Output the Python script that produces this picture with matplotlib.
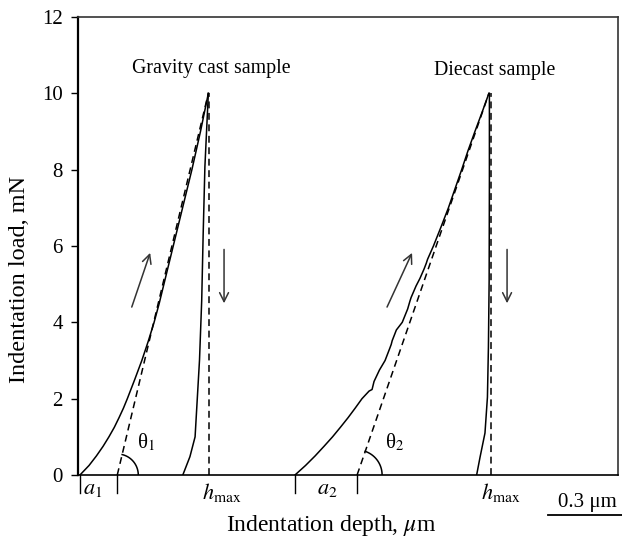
import numpy as np
import matplotlib
matplotlib.use("Agg")
import matplotlib.pyplot as plt

plt.rcParams['font.family'] = ['Liberation Serif', 'DejaVu Serif']
plt.rcParams['mathtext.fontset'] = 'stix'

# ---------------- data (depth in um, load in mN) ----------------
gc_load_x = [0.008, 0.045, 0.075, 0.102, 0.126, 0.148, 0.167, 0.185, 0.201, 0.231, 0.260,
             0.286, 0.310, 0.331, 0.350, 0.388, 0.426, 0.464, 0.499, 0.531]
gc_load_y = [0.0, 0.25, 0.5, 0.75, 1.0, 1.25, 1.5, 1.75, 2.0, 2.5, 3.0,
             3.5, 4.0, 4.5, 5.0, 6.0, 7.0, 8.0, 9.0, 10.0]
gc_unload_x = [0.531, 0.517, 0.510, 0.504, 0.495, 0.477, 0.456, 0.427]
gc_unload_y = [10.0, 8.08, 6.33, 4.58, 3.01, 1.0, 0.48, 0.0]
gc_tangent_x = [0.160, 0.531]
gc_tangent_y = [0.0, 10.0]
gc_hmax = 0.534

dc_load_x = [0.884, 0.927, 0.966, 1.002, 1.037, 1.069, 1.100, 1.129, 1.157, 1.186, 1.198, 1.206,
             1.228, 1.251, 1.269, 1.276, 1.280, 1.297, 1.321, 1.343, 1.352, 1.357, 1.377, 1.393,
             1.410, 1.419, 1.424, 1.448, 1.479, 1.509, 1.536, 1.563, 1.589, 1.617, 1.646, 1.674]
dc_load_y = [0.0, 0.25, 0.5, 0.75, 1.0, 1.25, 1.5, 1.75, 2.0, 2.2, 2.24, 2.45,
             2.75, 3.0, 3.3, 3.42, 3.52, 3.8, 4.0, 4.35, 4.55, 4.65, 4.95, 5.15,
             5.4, 5.55, 5.65, 6.0, 6.5, 7.0, 7.5, 8.0, 8.5, 9.0, 9.5, 10.0]
dc_unload_x = [1.676, 1.676, 1.675, 1.672, 1.668, 1.658, 1.638, 1.624]
dc_unload_y = [10.0, 7.73, 5.11, 3.35, 2.04, 1.10, 0.47, 0.0]
dc_tangent_x = [1.137, 1.674]
dc_tangent_y = [0.0, 10.0]
dc_hmax = 1.681

y_ticks = [0, 2, 4, 6, 8, 10, 12]
scale_len = 0.3

# ---------------- figure ----------------
fig = plt.figure(figsize=(6.22, 5.38), dpi=100)
ax = fig.add_axes([0.1254, 0.1171, 0.8682, 0.8513])
ax.set_xlim(0, 2.2)
ax.set_ylim(0, 12)

lw = 1.1
dash = (0, (4.5, 3))
ax.plot(gc_load_x, gc_load_y, color='black', lw=lw)
ax.plot(gc_unload_x, gc_unload_y, color='black', lw=lw)
ax.plot(gc_tangent_x, gc_tangent_y, color='black', lw=lw, ls=dash)
ax.plot([gc_hmax, gc_hmax], [0, 10], color='black', lw=lw, ls=dash)

ax.plot(dc_load_x, dc_load_y, color='black', lw=lw)
ax.plot(dc_unload_x, dc_unload_y, color='black', lw=lw)
ax.plot(dc_tangent_x, dc_tangent_y, color='black', lw=lw, ls=dash)
ax.plot([dc_hmax, dc_hmax], [0, 10], color='black', lw=lw, ls=dash)

# arrows
arrow_kw = dict(arrowstyle='->', color='#333333', lw=1.1, mutation_scale=16, shrinkA=0, shrinkB=0)
ax.annotate('', xy=(0.294, 5.82), xytext=(0.219, 4.40), arrowprops=arrow_kw)
ax.annotate('', xy=(0.595, 4.50), xytext=(0.595, 5.91), arrowprops=arrow_kw)
ax.annotate('', xy=(1.361, 5.82), xytext=(1.259, 4.40), arrowprops=arrow_kw)
ax.annotate('', xy=(1.748, 4.50), xytext=(1.748, 5.91), arrowprops=arrow_kw)

# angle arcs (drawn circular in display space)
def draw_arc(x0, x1, y1, r_px):
    p0 = ax.transData.transform((x0, 0.0))
    p1 = ax.transData.transform((x1, y1))
    ang = np.arctan2(p1[1] - p0[1], p1[0] - p0[0])
    t = np.linspace(0, ang, 60)
    pts = np.column_stack([p0[0] + r_px * np.cos(t), p0[1] + r_px * np.sin(t)])
    d = ax.transData.inverted().transform(pts)
    ax.plot(d[:, 0], d[:, 1], color='black', lw=lw)

draw_arc(gc_tangent_x[0], gc_tangent_x[1], gc_tangent_y[1], 21)
draw_arc(dc_tangent_x[0], dc_tangent_x[1], dc_tangent_y[1], 25)

ax.text(0.277, 0.84, r'θ$_1$', fontsize=15, ha='center', va='center')
ax.text(1.290, 0.84, r'θ$_2$', fontsize=15, ha='center', va='center')

ax.text(0.542, 10.66, 'Gravity cast sample', fontsize=14.3, ha='center', va='center')
ax.text(1.699, 10.61, 'Diecast sample', fontsize=14.3, ha='center', va='center')

# a1 / a2 markers below axis
for xm in [gc_load_x[0], gc_tangent_x[0], dc_load_x[0], dc_tangent_x[0]]:
    ax.plot([xm, xm], [0, -0.47], color='black', lw=1.0, clip_on=False)
ax.text(0.061, -0.39, r'$a_1$', fontsize=16, ha='center', va='center')
ax.text(1.014, -0.39, r'$a_2$', fontsize=16, ha='center', va='center')
ax.text(gc_hmax + 0.053, -0.47, r'$h_{\mathrm{max}}$', fontsize=16, ha='center', va='center')
ax.text(dc_hmax + 0.042, -0.47, r'$h_{\mathrm{max}}$', fontsize=16, ha='center', va='center')

# scale bar
ax.plot([2.215 - scale_len, 2.215], [-1.05, -1.05], color='black', lw=1.3, clip_on=False)
ax.text(2.074, -0.71, '0.3 μm', fontsize=15, ha='center', va='center')

# axes styling
ax.set_yticks(y_ticks)
ax.set_xticks([])
ax.tick_params(axis='y', direction='out', length=5, width=1.0, labelsize=15, pad=6)
for s in ax.spines.values():
    s.set_linewidth(1.2)
    s.set_color('#333333')
ax.spines['left'].set_linewidth(1.6)
ax.spines['left'].set_color('black')
ax.spines['bottom'].set_color('black')

ax.set_ylabel('Indentation load, mN', fontsize=17.5)
ax.yaxis.set_label_coords(-0.089, 0.428)
ax.set_xlabel(r'Indentation depth, $\mu$m', fontsize=17)
ax.xaxis.set_label_coords(0.4685, -0.082)

fig.savefig('out.png', dpi=100)
